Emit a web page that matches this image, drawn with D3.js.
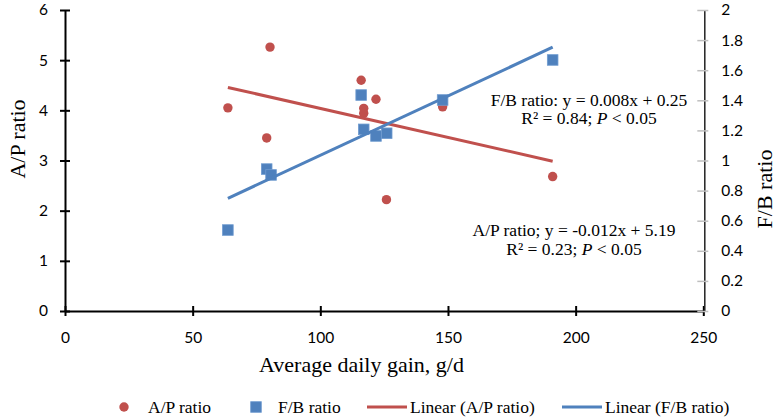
<!DOCTYPE html>
<html><head><meta charset="utf-8">
<script src="https://cdn.jsdelivr.net/npm/d3@7"></script>
<style>
body{margin:0;background:#fff;}
svg{display:block;}
.serif{font-family:'Liberation Serif','Times New Roman',serif;}
.sans{font-family:Lato,'Open Sans',sans-serif;}
</style></head>
<body>
<svg id="chart" width="780" height="418"></svg>
<script>
// Data
const apX = [63.8, 80.3, 79.0, 116, 121.8, 117, 117, 147.9, 125.9, 191];
const apY = [4.05, 5.26, 3.45, 4.60, 4.22, 4.04, 3.94, 4.07, 2.22, 2.68];
const fbX = [63.8, 79.0, 80.7, 116, 117, 121.8, 126, 147.9, 191];
const fbY = [0.538, 0.943, 0.904, 1.435, 1.207, 1.163, 1.181, 1.402, 1.668];
const xTicks = [0, 50, 100, 150, 200, 250];
const yLeftTicks = [0, 1, 2, 3, 4, 5, 6];
const yRightTicks = [0, 0.2, 0.4, 0.6, 0.8, 1, 1.2, 1.4, 1.6, 1.8, 2];
const legendLabels = ["A/P ratio", "F/B ratio", "Linear (A/P ratio)", "Linear (F/B ratio)"];
const apEq = ["A/P ratio; y = -0.012x + 5.19", "R² = 0.23; ", "P", " < 0.05"];
const fbEq = ["F/B ratio: y = 0.008x + 0.25", "R² = 0.84; ", "P", " < 0.05"];

const RED = "#C0504D", BLUE = "#4F81BD";

const svg = d3.select("#chart");
const x = d3.scaleLinear().domain([0, 250]).range([65, 703.3]);
const yL = d3.scaleLinear().domain([0, 6]).range([311, 10]);
const yR = d3.scaleLinear().domain([0, 2]).range([311, 10]);
const fmt = d => String(+(+d).toFixed(1));

function fit(xs, ys) {
  const n = xs.length, mx = d3.mean(xs), my = d3.mean(ys);
  let sxy = 0, sxx = 0;
  for (let i = 0; i < n; i++) { sxy += (xs[i]-mx)*(ys[i]-my); sxx += (xs[i]-mx)**2; }
  const b = sxy/sxx; return {b, a: my - b*mx};
}

// Axes
const gx = svg.append("g").attr("transform", "translate(0,311)")
  .call(d3.axisBottom(x).tickValues(xTicks).tickFormat(fmt).tickSizeInner(5).tickSizeOuter(0).tickPadding(16));
gx.selectAll(".tick line").attr("y1", -5).attr("y2", 5).attr("stroke", "#000").attr("stroke-width", 2);
gx.select(".domain").attr("stroke", "#000").attr("stroke-width", 2);

const gyl = svg.append("g").attr("transform", "translate(65,0)")
  .call(d3.axisLeft(yL).tickValues(yLeftTicks).tickFormat(fmt).tickSizeInner(5).tickSizeOuter(0).tickPadding(12));
gyl.selectAll(".tick line").attr("x1", 5).attr("x2", -5).attr("stroke", "#000").attr("stroke-width", 2);
gyl.select(".domain").attr("stroke", "#000").attr("stroke-width", 2);

const gyr = svg.append("g").attr("transform", "translate(704.3,0)")
  .call(d3.axisRight(yR).tickValues(yRightTicks).tickFormat(fmt).tickSizeInner(4).tickSizeOuter(0).tickPadding(13));
gyr.selectAll(".tick line").attr("x1", -7).attr("x2", 4).attr("stroke", "#bfbfbf").attr("stroke-width", 1.5);
gyr.select(".domain").attr("stroke", "#222").attr("stroke-width", 1.5);

[gx, gyl, gyr].forEach(g => g.attr("font-family", null).attr("font-size", null));
svg.selectAll(".tick text").attr("class", "sans").style("font-size", "15.5px").attr("fill", "#000");

// Axis titles
svg.append("text").attr("class", "serif").attr("transform", "translate(25,139) rotate(-90)").attr("text-anchor", "middle")
  .style("font-size", "22px").text("A/P ratio");
svg.append("text").attr("class", "serif").attr("transform", "translate(772,189) rotate(-90)").attr("text-anchor", "middle")
  .style("font-size", "22px").text("F/B ratio");
svg.append("text").attr("class", "serif").attr("x", 361.5).attr("y", 372).attr("text-anchor", "middle")
  .style("font-size", "22px").text("Average daily gain, g/d");

// Points
const ap = apX.map((v, i) => ({x: v, y: apY[i]}));
const fb = fbX.map((v, i) => ({x: v, y: fbY[i]}));
svg.append("g").selectAll("circle").data(ap).join("circle")
  .attr("cx", d => x(d.x)).attr("cy", d => yL(d.y)).attr("r", 4.7).attr("fill", RED);
svg.append("g").selectAll("rect").data(fb).join("rect")
  .attr("x", d => x(d.x) - 5.3).attr("y", d => yR(d.y) - 5.3).attr("width", 10.6).attr("height", 10.6)
  .attr("fill", BLUE).attr("stroke", "#6f9bd0").attr("stroke-width", 0.8);

// Trend lines (least squares fit of the data)
const fa = fit(apX, apY), ff = fit(fbX, fbY);
const apRange = d3.extent(apX), fbRange = d3.extent(fbX);
svg.append("line").attr("x1", x(apRange[0])).attr("y1", yL(fa.a + fa.b*apRange[0]))
  .attr("x2", x(apRange[1])).attr("y2", yL(fa.a + fa.b*apRange[1])).attr("stroke", RED).attr("stroke-width", 3);
svg.append("line").attr("x1", x(fbRange[0])).attr("y1", yR(ff.a + ff.b*fbRange[0]))
  .attr("x2", x(fbRange[1])).attr("y2", yR(ff.a + ff.b*fbRange[1])).attr("stroke", BLUE).attr("stroke-width", 3);

// Equation annotations
function eq(lines, cx, y1, y2) {
  svg.append("text").attr("class", "serif").attr("x", cx).attr("y", y1).attr("text-anchor", "middle")
    .style("font-size", "17.5px").text(lines[0]);
  const t = svg.append("text").attr("class", "serif").attr("x", cx).attr("y", y2).attr("text-anchor", "middle")
    .style("font-size", "17.5px");
  t.append("tspan").text(lines[1]);
  t.append("tspan").style("font-style", "italic").text(lines[2]);
  t.append("tspan").text(lines[3]);
}
eq(fbEq, 589, 105.5, 124);
eq(apEq, 574, 235.5, 254.5);

// Legend
const ly = 407;
const lg = svg.append("g");
lg.append("circle").attr("cx", 124).attr("cy", ly).attr("r", 4.7).attr("fill", RED);
lg.append("rect").attr("x", 256 - 5.3).attr("y", ly - 5.3).attr("width", 10.6).attr("height", 10.6)
  .attr("fill", BLUE).attr("stroke", "#6f9bd0").attr("stroke-width", 0.8);
lg.append("line").attr("x1", 367).attr("x2", 407).attr("y1", ly).attr("y2", ly).attr("stroke", RED).attr("stroke-width", 3);
lg.append("line").attr("x1", 562).attr("x2", 602).attr("y1", ly).attr("y2", ly).attr("stroke", BLUE).attr("stroke-width", 3);
[[148, 0], [278, 1], [410, 2], [605, 3]].forEach(([lx, i]) => {
  lg.append("text").attr("class", "serif").attr("x", lx).attr("y", ly + 6).style("font-size", "17.5px").text(legendLabels[i]);
});
</script>
</body></html>
